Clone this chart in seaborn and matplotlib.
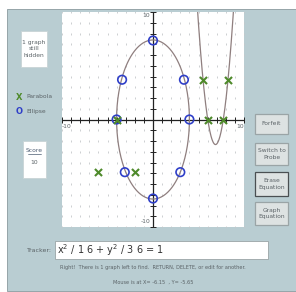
import matplotlib
matplotlib.use("Agg")
import matplotlib.pyplot as plt
import numpy as np
import pandas as pd
import seaborn as sns
from matplotlib.patches import Rectangle

# hidden graphs
ell_a, ell_b = 4.0, 7.4          # ellipse semi axes
par_h, par_k, par_c = 6.87, -2.33, 3.2   # parabola vertex and width

# probe hits
ell_x = [0, -3.4, 3.4, -4, 4, -3.1, 3.0, 0]
ell_y = [7.35, 3.7, 3.7, 0, 0, -4.9, -4.9, -7.35]
par_x = [5.5, 8.2, 6.0, 7.7, -6.0, -2.0, -4.0]
par_y = [3.7, 3.7, 0, 0, -4.9, -4.9, 0]

ticks = list(range(-10, 11))

W, H = 296, 292
sns.set_style("white")
fig = plt.figure(figsize=(W / 100, H / 100), dpi=100)
fig.patch.set_facecolor("white")

def fx(x):
    return x / W

def fy(y):
    return 1 - y / H

panel = "#b9cdd2"
fig.patches.append(Rectangle((fx(7), fy(291)), fx(289), (291 - 9) / H,
                             transform=fig.transFigure, facecolor=panel,
                             edgecolor="#8a9a9e", lw=0.6, zorder=-3))

def box(x0, y0, x1, y1, face="white", edge="#c8d4d6", lw=0.6):
    fig.patches.append(Rectangle((fx(x0), fy(y1)), (x1 - x0) / W, (y1 - y0) / H,
                                 transform=fig.transFigure, facecolor=face,
                                 edgecolor=edge, lw=lw, zorder=-2))

txt = "#5a6266"
# left panel
box(21, 31, 47, 67)
fig.text(fx(34), fy(49), "1 graph\nstill\nhidden", ha="center", va="center",
         fontsize=4.3, color=txt, linespacing=1.4)
fig.text(fx(19), fy(97), "X", ha="center", va="center", fontsize=6,
         color="#4e8a2a", weight="bold")
fig.text(fx(26), fy(97), "Parabola", ha="left", va="center", fontsize=4.3, color=txt)
fig.text(fx(19), fy(111), "O", ha="center", va="center", fontsize=6,
         color="#2f3fc8", weight="bold")
fig.text(fx(26), fy(111), "Ellipse", ha="left", va="center", fontsize=4.3, color=txt)
box(23, 141, 46, 178)
fig.text(fx(34.5), fy(150), "Score", ha="center", va="center", fontsize=4.3,
         color="#4a5a70")
fig.lines.append(plt.Line2D([fx(28), fx(41)], [fy(154), fy(154)],
                            transform=fig.transFigure, color="#4a5a70", lw=0.5))
fig.text(fx(34.5), fy(163), "10", ha="center", va="center", fontsize=4.3, color=txt)

# buttons on the right
buttons = ["Forfeit", "Switch to\nProbe", "Erase\nEquation", "Graph\nEquation"]
btn_y = [(114, 134), (143, 165), (172, 196), (202, 225)]
for lab, (y0, y1) in zip(buttons, btn_y):
    edge = "#4a4f52" if lab.startswith("Erase") else "#9aa4a6"
    box(255, y0, 288, y1, face="#dde2e2", edge=edge, lw=0.9)
    fig.text(fx(271.5), fy((y0 + y1) / 2), lab, ha="center", va="center",
             fontsize=4.3, color=txt, linespacing=1.3)

# tracker row
fig.text(fx(52), fy(251), "Tracker:", ha="right", va="center", fontsize=4.5, color=txt)
box(55, 241, 268, 259, edge="#9aa4a6")
fig.text(fx(57), fy(250), "x$^2$ / 1 6 + y$^2$ / 3 6 = 1", ha="left", va="center",
         fontsize=7, color="#333333")
fig.text(fx(153), fy(268), "Right!  There is 1 graph left to find.  RETURN, DELETE, or edit for another.",
         ha="center", va="center", fontsize=3.6, color=txt)
fig.text(fx(153), fy(282), "Mouse is at X= -6.15  , Y= -5.65", ha="center",
         va="center", fontsize=3.6, color=txt)

# graph area
ax = fig.add_axes([fx(62), fy(227), (244 - 62) / W, (227 - 12) / H])
ax.set_zorder(1)
ax.set_facecolor("white")
for s in ax.spines.values():
    s.set_visible(False)

gx, gy = np.meshgrid(ticks, ticks)
ax.scatter(gx.ravel(), gy.ravel(), marker="|", s=3, color="#c4c8ca", lw=0.6, zorder=1)

ax.axhline(0, color="#222222", lw=0.9, zorder=2)
ax.axvline(0, color="#222222", lw=0.9, zorder=2)
ax.scatter(ticks, [0] * len(ticks), marker="|", s=14, color="#222222", lw=0.7, zorder=2)
ax.scatter([0] * len(ticks), ticks, marker="_", s=14, color="#222222", lw=0.7, zorder=2)

ax.text(-10, -0.4, "-10", ha="left", va="top", fontsize=4.3, color=txt)
ax.text(10, -0.4, "10", ha="right", va="top", fontsize=4.3, color=txt)
ax.text(-0.3, 9.9, "10", ha="right", va="top", fontsize=4.3, color=txt)
ax.text(-0.3, -9.7, "-10", ha="right", va="bottom", fontsize=4.3, color=txt)

curve = "#8f7f7f"
t = np.linspace(0, 2 * np.pi, 300)
ell = pd.DataFrame({"x": ell_a * np.cos(t), "y": ell_b * np.sin(t)})
sns.lineplot(data=ell, x="x", y="y", sort=False, estimator=None, color=curve,
             lw=0.9, ax=ax, zorder=3)
px_ = np.linspace(3, 11, 300)
par = pd.DataFrame({"x": px_, "y": par_c * (px_ - par_h) ** 2 + par_k})
sns.lineplot(data=par, x="x", y="y", sort=False, estimator=None, color=curve,
             lw=0.9, ax=ax, zorder=3)

sns.scatterplot(x=ell_x, y=ell_y, marker="o", s=38, facecolor="none",
                edgecolor="#2f3fc8", linewidth=1.2, ax=ax, zorder=4)
sns.scatterplot(x=par_x, y=par_y, marker="x", s=26, color="#4e8a2a",
                linewidth=1.5, ax=ax, zorder=5)
ax.set_xlim(-10, 10)
ax.set_ylim(-10, 10)
ax.set_xticks([])
ax.set_yticks([])
ax.set_xlabel("")
ax.set_ylabel("")

fig.savefig("out.png", dpi=100)
